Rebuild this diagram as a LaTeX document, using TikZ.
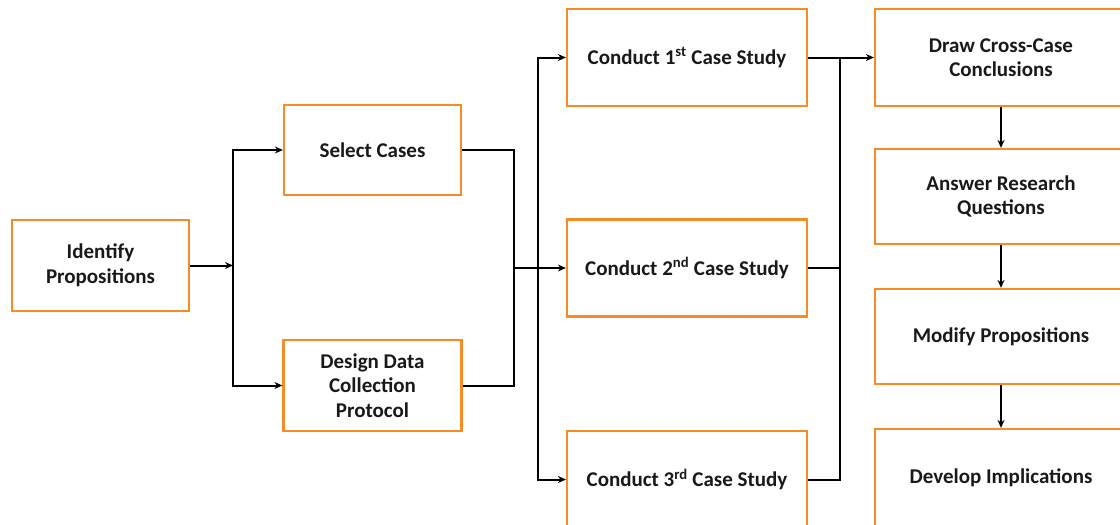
\documentclass[tikz,border=0pt]{standalone}
\usepackage{fontspec}
\setmainfont{Carlito}
\usetikzlibrary{arrows.meta}
\definecolor{boxorange}{RGB}{247,140,38}
\tikzset{
  box/.style={draw=boxorange, line width=2.2pt, rectangle, align=center, inner sep=2pt,
    font=\fontsize{21}{24.5}\selectfont\bfseries, text=black!90},
  conn/.style={draw=black, line width=2pt},
  arr/.style={conn, -{Stealth[length=8pt,width=7pt]}}
}
\begin{document}
\begin{tikzpicture}[x=1pt,y=-1pt]
\useasboundingbox (0,0) rectangle (1120,525);
\clip (0,0) rectangle (1120,525);
\node[box, minimum width=177pt, minimum height=91pt] (ident) at (100.5,265.5) {Identify\\Propositions};
\node[box, minimum width=177pt, minimum height=90pt] (select) at (372.5,150) {Select Cases};
\node[box, minimum width=178pt, minimum height=91pt] (design) at (372.5,385.5) {Design Data\\Collection\\Protocol};
\node[box, minimum width=240pt, minimum height=97pt] (c1) at (687,57.5) {Conduct 1\textsuperscript{st} Case Study};
\node[box, minimum width=240pt, minimum height=97pt] (c2) at (687,268) {Conduct 2\textsuperscript{nd} Case Study};
\node[box, minimum width=240pt, minimum height=97pt] (c3) at (687,479.5) {Conduct 3\textsuperscript{rd} Case Study};
\node[box, minimum width=252pt, minimum height=97pt] (r1) at (1001,57.5) {Draw Cross-Case\\Conclusions};
\node[box, minimum width=252pt, minimum height=95pt] (r2) at (1001,196.5) {Answer Research\\Questions};
\node[box, minimum width=252pt, minimum height=95pt] (r3) at (1001,336.5) {Modify Propositions};
\node[box, minimum width=252pt, minimum height=97pt] (r4) at (1001,477.5) {Develop Implications};
\coordinate (j1) at (233,265.5);
\coordinate (j2) at (514,268);
\coordinate (j3) at (538,268);
\coordinate (j4) at (840,57.5);
\draw[arr] (ident.east) -- (j1);
\draw[arr] (j1) |- (select.west);
\draw[arr] (j1) |- (design.west);
\draw[conn] (select.east) -| (j2);
\draw[conn] (design.east) -| (j2);
\draw[arr] (j2) -- (c2.west);
\draw[arr] (j3) |- (c1.west);
\draw[arr] (j3) |- (c3.west);
\draw[arr] (c1.east) -- (r1.west);
\draw[conn] (c2.east) -| (j4);
\draw[conn] (c3.east) -| (j4);
\draw[arr] (r1.south) -- (r2.north);
\draw[arr] (r2.south) -- (r3.north);
\draw[arr] (r3.south) -- (r4.north);
\end{tikzpicture}
\end{document}
